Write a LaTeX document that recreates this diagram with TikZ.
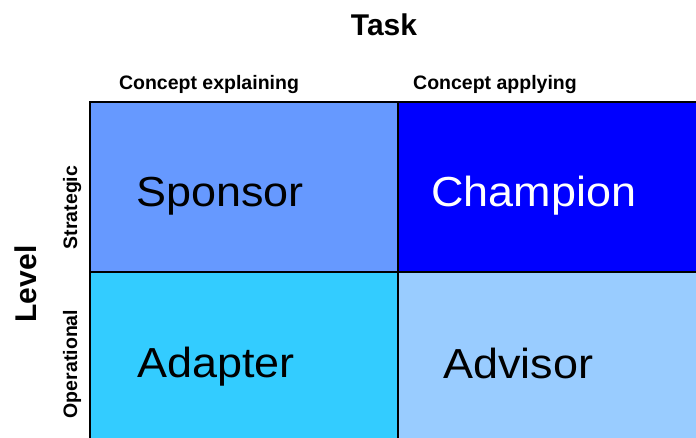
\documentclass[tikz,border=0pt]{standalone}
\usepackage{fontspec}
\setmainfont{Liberation Sans}
\definecolor{sponsorc}{HTML}{6699FF}
\definecolor{championc}{HTML}{0000FF}
\definecolor{adapterc}{HTML}{33CCFF}
\definecolor{advisorc}{HTML}{99CCFF}
\begin{document}
\begin{tikzpicture}[x=1pt,y=-1pt,
  cell/.style={draw=black,line width=1.3pt,anchor=north west,inner sep=0pt,outer sep=0pt},
  big/.style={font=\fontsize{42}{48}\selectfont,anchor=base west,inner sep=0pt},
  hdr/.style={font=\bfseries\fontsize{19.5}{22}\selectfont,inner sep=0pt,anchor=base},
  ttl/.style={font=\bfseries\fontsize{30}{34}\selectfont,inner sep=0pt,anchor=base}]
\useasboundingbox (0,0) rectangle (696,438);
\clip (0,0) rectangle (696,438);
\fill[white] (0,0) rectangle (696,438);
\node[cell,fill=sponsorc,minimum width=308pt,minimum height=170pt] (sp) at (90,102) {};
\node[cell,fill=championc,minimum width=330pt,minimum height=170pt] (ch) at (398,102) {};
\node[cell,fill=adapterc,minimum width=308pt,minimum height=190pt] (ad) at (90,272) {};
\node[cell,fill=advisorc,minimum width=330pt,minimum height=190pt] (av) at (398,272) {};
\node[big] (tsp) at (136,207) {\scalebox{1.07}[1]{Sponsor}};
\node[big,text=white] (tch) at (431,207) {\scalebox{1.07}[1]{Champion}};
\node[big] (tad) at (137,377) {\scalebox{1.07}[1]{Adapter}};
\node[big] (tav) at (443,378) {\scalebox{1.07}[1]{Advisor}};
\node[ttl] (task) at (384,36) {Task};
\node[hdr] (h1) at (209,90) {Concept explaining};
\node[hdr] (h2) at (495,90) {Concept applying};
\node[ttl,rotate=90] (level) at (36,284) {Level};
\node[hdr,rotate=90] (v1) at (77,207.5) {Strategic};
\node[hdr,rotate=90] (v2) at (77,364) {Operational};
\end{tikzpicture}
\end{document}
